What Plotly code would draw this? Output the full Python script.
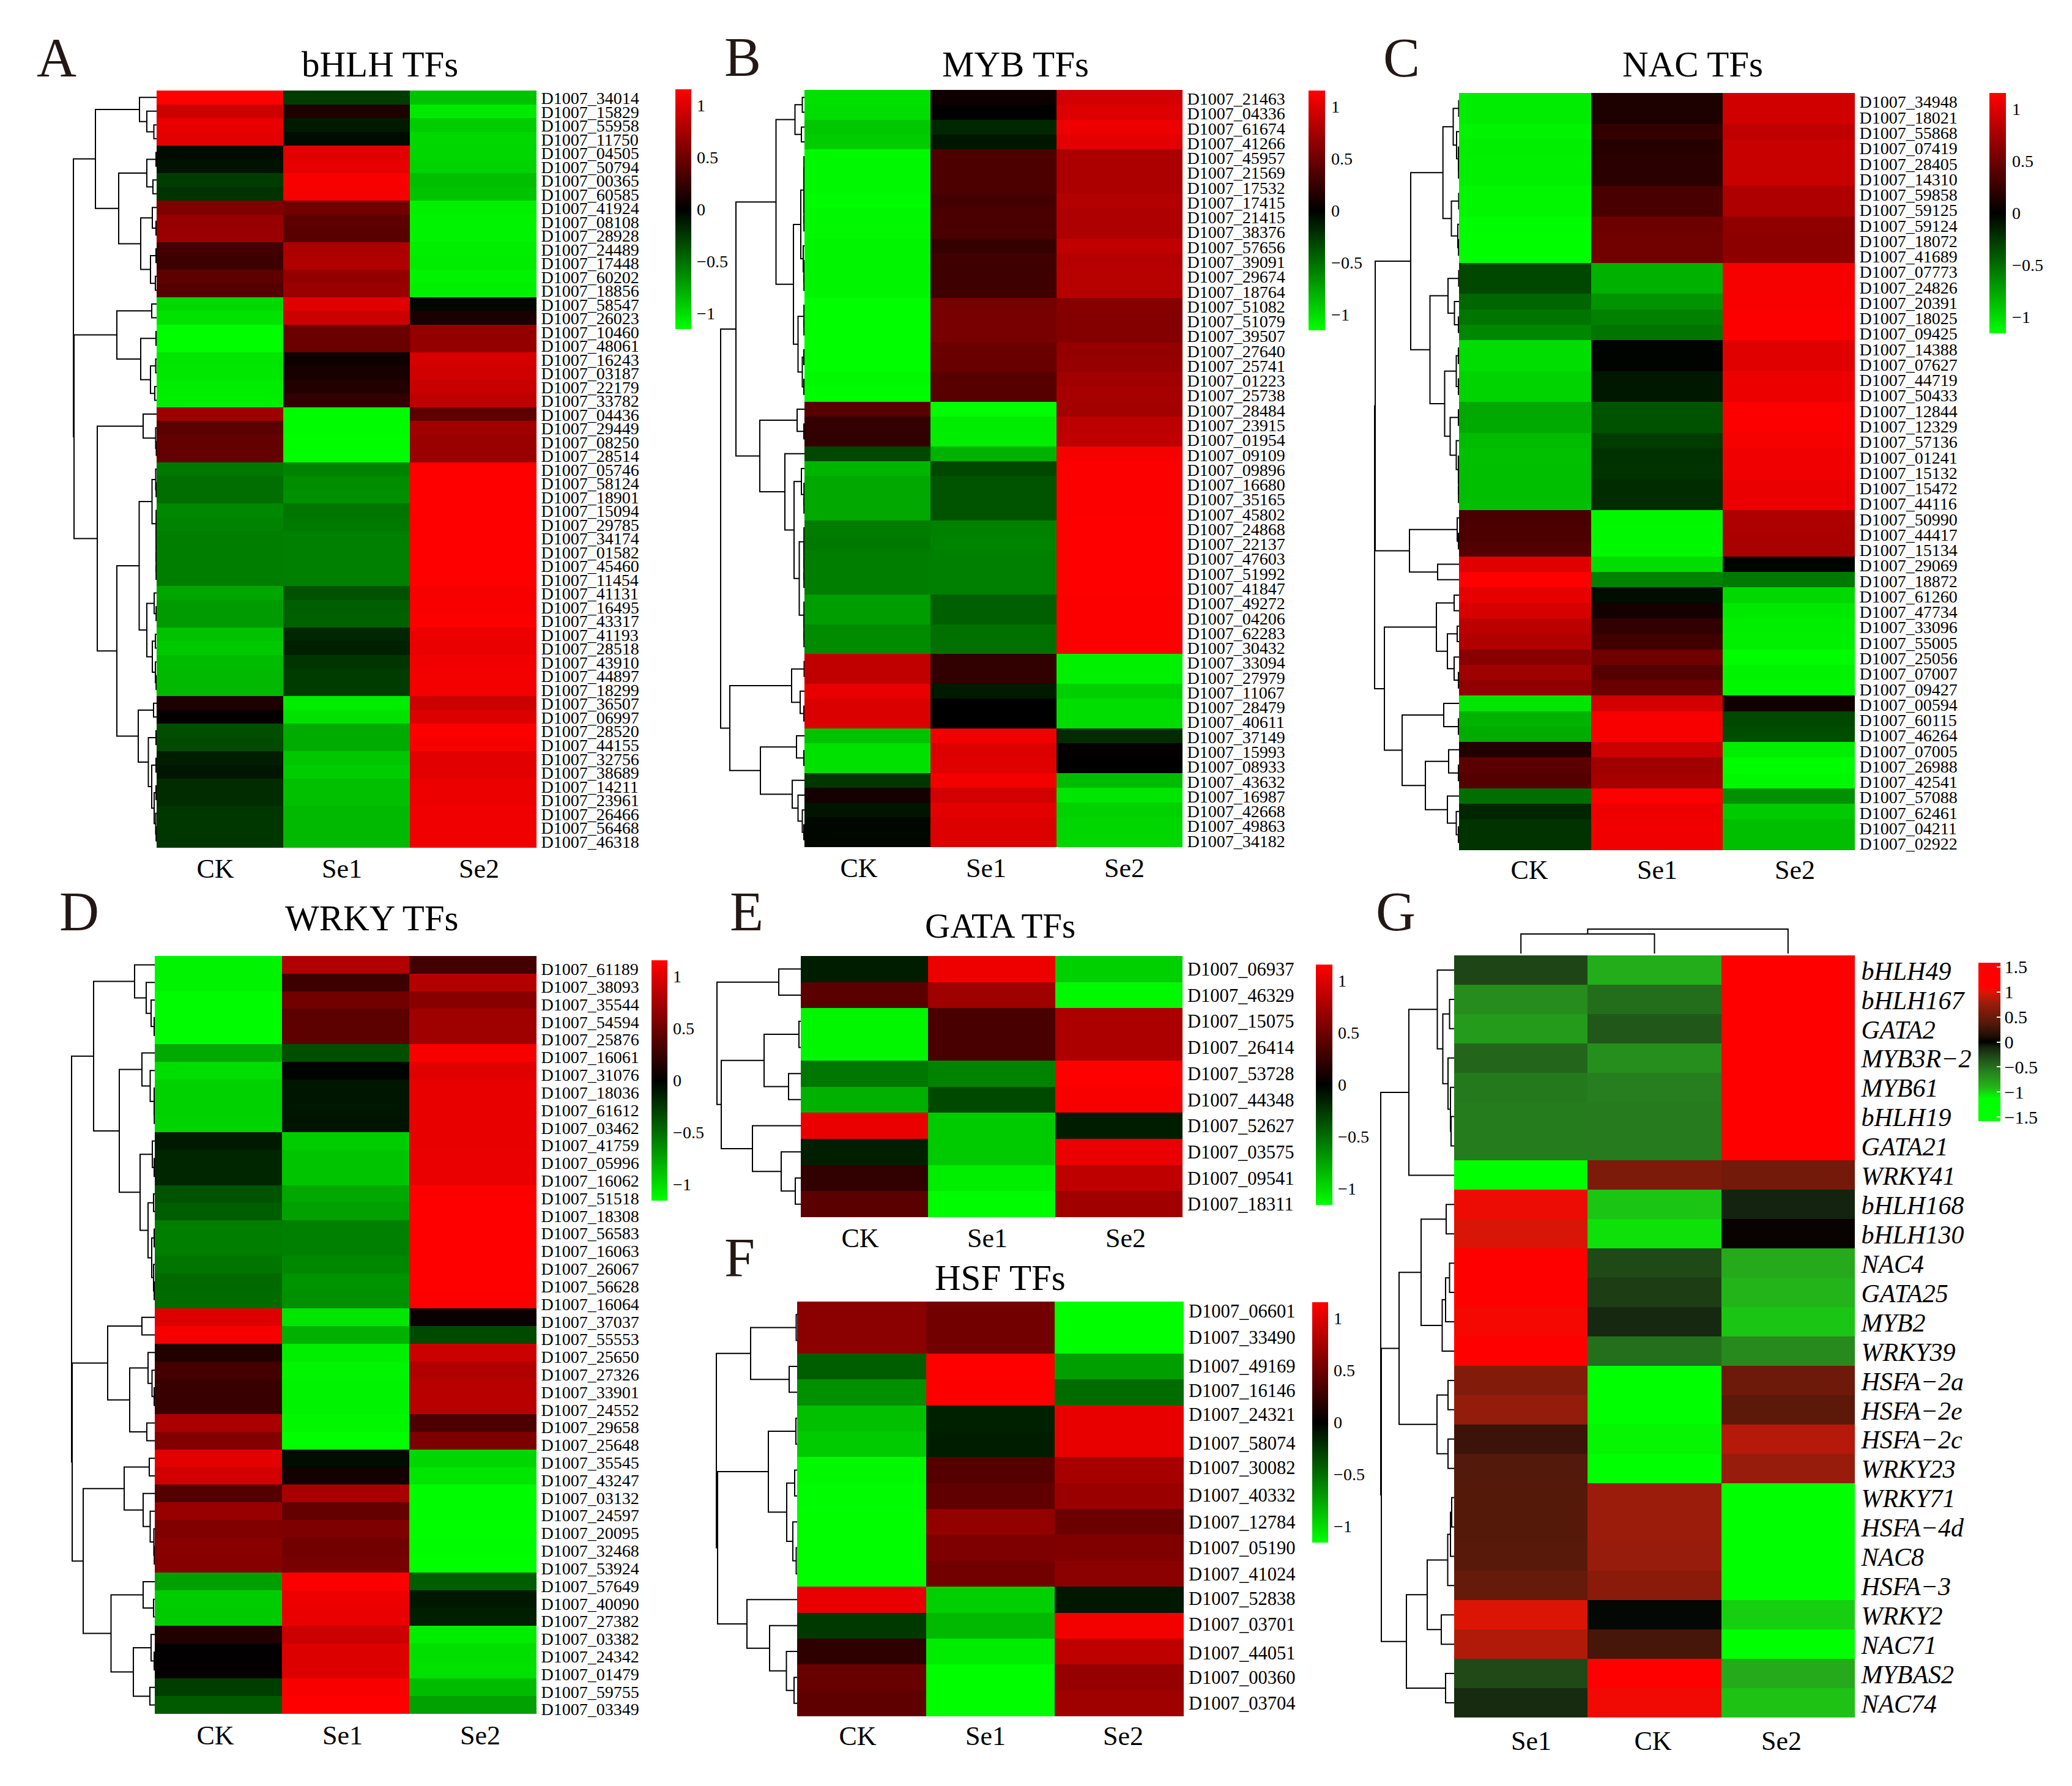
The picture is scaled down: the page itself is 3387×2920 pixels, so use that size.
import plotly.graph_objects as go

W, H = 3387, 2920
FONT = "Liberation Serif"
SAMPLES = ["CK", "Se1", "Se2"]
PREFIX = "D1007_"

# ---------- panel A: bHLH ----------
a_ids = "34014 15829 55958 11750 04505 50794 00365 60585 41924 08108 28928 24489 17448 60202 18856 58547 26023 10460 48061 16243 03187 22179 33782 04436 29449 08250 28514 05746 58124 18901 15094 29785 34174 01582 45460 11454 41131 16495 43317 41193 28518 43910 44897 18299 36507 06997 28520 44155 32756 38689 14211 23961 26466 56468 46318".split()
a_ck = [1.15,.93,1.05,1.03,-.05,-.08,-.27,-.23,.57,.68,.70,.30,.27,.43,.38,-.98,-1.03,-1.15,-1.15,-1.04,-1.05,-1.07,-1.08,.72,.41,.45,.45,-.55,-.50,-.50,-.62,-.60,-.57,-.57,-.57,-.57,-.75,-.70,-.70,-.88,-.91,-.85,-.84,-.84,.13,.02,-.36,-.34,-.13,-.10,-.20,-.20,-.25,-.25,-.25]
a_se1 = [-.27,.13,-.12,-.05,1.02,1.04,1.13,1.12,.52,.42,.40,.78,.80,.67,.70,1.02,.93,.48,.48,.07,.11,.16,.22,-1.14,-1.14,-1.15,-1.15,-.60,-.64,-.65,-.53,-.55,-.58,-.58,-.58,-.58,-.37,-.43,-.44,-.18,-.15,-.24,-.27,-.27,-1.07,-1.02,-.78,-.78,-.90,-.93,-.87,-.87,-.84,-.84,-.84]
a_se2 = [-.88,-1.06,-.93,-.98,-.97,-.96,-.86,-.89,-1.09,-1.10,-1.10,-1.08,-1.07,-1.10,-1.09,-.03,.12,.67,.67,.97,.94,.91,.86,.42,.73,.70,.70,1.15,1.15,1.15,1.15,1.15,1.15,1.15,1.15,1.15,1.12,1.13,1.14,1.07,1.06,1.09,1.10,1.11,.93,1.00,1.14,1.12,1.03,1.03,1.07,1.07,1.09,1.09,1.09]
a_tree = [136,
          [100, [28, 1, [16, 1, [4.5, 1, 1]]],
           [62, [16, [1, 1, 1], [6, 1, 1]],
            [26, [7, 1, [1, 1, 1]], [10, [1, 1, 1], [2, 1, 1]]]]],
          [135,
           [65, [8, 1, 1], [26, [1, 1, 1], [10, [1.5, 1, 1], [3, 1, 1]]]],
           [97, [22, 1, [1.5, 1, [.5, 1, 1]]],
            [65,
             [28.5, [7.5, [1.5, 1, 2], 6], [16, [4, 1, 2], [7, [2, 1, 1], [2, 1, 2]]]],
             [30, [5, 1, 1], [13.5, [1, 1, 1], [8, [1, 1, 1], [4, [1, 1, 1], [1.5, 1, 2]]]]]]]]]

# ---------- panel B: MYB ----------
b_ids = "21463 04336 61674 41266 45957 21569 17532 17415 21415 38376 57656 39091 29674 18764 51082 51079 39507 27640 25741 01223 25738 28484 23915 01954 09109 09896 16680 35165 45802 24868 22137 47603 51992 41847 49272 04206 62283 30432 33094 27979 11067 28479 40611 37149 15993 08933 43632 16987 42668 49863 34182".split()
b_ck = [-1.02,-1.0,-.9,-.93,-1.13,-1.13,-1.13,-1.14,-1.13,-1.13,-1.11,-1.11,-1.11,-1.11,-1.15,-1.15,-1.15,-1.15,-1.15,-1.13,-1.14,.40,.23,.22,-.32,-.82,-.76,-.76,-.76,-.56,-.55,-.57,-.57,-.57,-.71,-.71,-.63,-.63,.87,.87,1.05,.99,.99,-.88,-1.02,-1.02,-.25,.09,-.09,-.03,-.03]
b_se1 = [.07,0,-.18,-.1,.35,.35,.35,.31,.34,.34,.24,.29,.28,.28,.54,.55,.55,.48,.47,.40,.39,-1.14,-1.07,-1.08,-.80,-.32,-.38,-.38,-.38,-.59,-.60,-.58,-.58,-.58,-.43,-.43,-.51,-.51,.22,.22,-.12,0,0,1.09,1.0,1.02,1.1,.95,1.03,1.0,1.0]
b_se2 = [.95,1.0,1.08,1.03,.78,.78,.78,.81,.79,.79,.87,.82,.83,.83,.61,.60,.60,.67,.68,.73,.75,.74,.85,.86,1.12,1.14,1.14,1.14,1.14,1.15,1.15,1.15,1.15,1.15,1.14,1.14,1.14,1.14,-1.09,-1.09,-.94,-1.0,-1.0,-.2,.02,0,-.85,-1.04,-.95,-.97,-.97]
b_tree = [137,
          [112,
           [46.5, [15.5, [3.5, 1, 1], [5, 1, 1]],
            [18, [6, [1, 3, 3], [2, 1, 3]], [10.5, 3, [3.5, [1, 1, 1], [1, 1, 1]]]]],
           [73, [12, 1, [1, 1, 1]],
            [32, 1, [17, [5, 1, 3], [8.5, 5, 4]]]]],
          [122,
           [21, [.5, 1, 1], [7, 1, [1, 1, 1]]],
           [72, [13, 1, [1, 1, 1]],
            [20, 1, [10.5, 1, [3.5, 1, [1, 1, 1]]]]]]]

# ---------- panel C: NAC ----------
c_ids = "34948 18021 55868 07419 28405 14310 59858 59125 59124 18072 41689 07773 24826 20391 18025 09425 14388 07627 44719 50433 12844 12329 57136 01241 15132 15472 44116 50990 44417 15134 29069 18872 61260 47734 33096 55005 25056 07007 09427 00594 60115 46264 07005 26988 42541 57088 62461 04211 02922".split()
c_ck = [-1.07,-1.07,-1.1,-1.08,-1.09,-1.09,-1.12,-1.12,-1.14,-1.15,-1.15,-.32,-.32,-.46,-.53,-.61,-1.0,-1.0,-.96,-.96,-.76,-.77,-.85,-.87,-.86,-.86,-.86,.33,.35,.37,1.02,1.15,1.04,.97,.85,.8,.62,.72,.65,-1.04,-.81,-.78,.16,.41,.38,-.5,-.17,-.23,-.23]
c_se1 = [.13,.13,.23,.17,.19,.19,.33,.33,.49,.51,.51,-.80,-.80,-.67,-.59,-.53,-.02,-.02,-.11,-.11,-.38,-.37,-.27,-.22,-.23,-.2,-.2,-1.12,-1.13,-1.13,-1.0,-.6,-.06,.09,.22,.29,.5,.38,.47,.95,1.13,1.13,.92,.73,.75,1.15,1.08,1.09,1.09]
c_se2 = [.94,.94,.87,.91,.9,.9,.79,.79,.65,.64,.64,1.12,1.12,1.13,1.14,1.14,1.02,1.02,1.07,1.07,1.14,1.14,1.12,1.09,1.09,1.06,1.06,.79,.78,.76,-.02,-.55,-.98,-1.06,-1.08,-1.09,-1.14,-1.1,-1.12,.08,-.32,-.35,-1.08,-1.14,-1.13,-.65,-.92,-.86,-.86]
c_tree = [138,
          [137,
           [79,
            [26.3, [9.5, [.5, 1, 1], [4, 1, [1, 1, 2]]], [12.5, [.5, 1, 1], [2, 1, 2]]],
            [47.5, [18, [.5, 1, 1], [7.5, 1, [1, 1, 1]]],
             [23.5, [4.5, [1, 1, 1], [1, 1, 1]], [14.5, [1, 1, 1], [4.5, 1, [1, 1, 3]]]]]],
           [81, [3, 1, [1, 1, 1]], [35, 1, 1]]],
          [122,
           [37, [8, 1, 1], [19, [3, 1, 1], [8, 1, [1, 1, 1]]]],
           [93, [25, 1, [1, 1, 1]],
            [55, [17, 1, [1, 1, 1]], [19, 1, [4.5, 1, [1, 1, 1]]]]]]]

# ---------- panel D: WRKY ----------
d_ids = "61189 38093 35544 54594 25876 16061 31076 18036 61612 03462 41759 05996 16062 51518 18308 56583 16063 26067 56628 16064 37037 55553 25650 27326 33901 24552 29658 25648 35545 43247 03132 24597 20095 32468 53924 57649 40090 27382 03382 24342 01479 59755 03349".split()
d_ck = [-1.1,-1.1,-1.14,-1.14,-1.14,-.77,-1.0,-.95,-.95,-.96,-.12,-.17,-.17,-.38,-.42,-.57,-.57,-.53,-.48,-.49,1.0,1.13,.16,.31,.26,.26,.77,.59,1.03,.95,.38,.69,.58,.62,.61,-.72,-.93,-.92,.15,.01,.02,-.28,-.41]
d_se1 = [.8,.27,.52,.42,.42,-.36,-.02,-.1,-.1,-.09,-.93,-.89,-.89,-.76,-.73,-.58,-.58,-.62,-.67,-.65,-1.04,-.8,-1.08,-1.11,-1.1,-1.1,-1.12,-1.15,-.06,.09,.76,.45,.57,.52,.54,1.14,1.07,1.06,.92,1.0,1.0,1.13,1.15]
d_se2 = [.3,.82,.62,.72,.72,1.13,1.02,1.05,1.05,1.05,1.05,1.06,1.06,1.14,1.15,1.15,1.15,1.15,1.15,1.14,.04,-.33,.92,.8,.84,.84,.35,.56,-.97,-1.04,-1.14,-1.14,-1.15,-1.14,-1.15,-.42,-.11,-.14,-1.07,-1.01,-1.02,-.85,-.73]
d_tree = [136,
          [100,
           [33, 1, [14, 1, [6, 1, [1, 1, 1]]]],
           [58, [21, 1, [7.5, 1, [1, 1, 2]]],
            [24, [4, 1, [1, 1, 1]],
             [11, [2, 1, 1], [5, [1, 1, 1], [2, 1, [1, 1, 1]]]]]]],
          [135,
           [77, [21, 1, 1],
            [41, [11, 1, [4.5, 1, [1, 1, 1]]], [13, 1, 1]]],
           [117,
            [50, [9, 1, 1], [19, 1, [7.5, 1, [1.5, 1, 2]]]],
            [71.5, [19, 1, [2, 1, 1]], [35, [6, 1, [1, 1, 1]], [8, 1, 1]]]]]]

# ---------- panel E: GATA ----------
e_ids = "06937 46329 15075 26414 53728 44348 52627 03575 09541 18311".split()
e_ck = [-.13,.41,-1.12,-1.12,-.54,-.8,1.06,-.14,.22,.41]
e_se1 = [1.08,.72,.33,.33,-.6,-.33,-.92,-.92,-1.08,-1.14]
e_se2 = [-.94,-1.13,.78,.78,1.15,1.13,-.13,1.06,.86,.73]
e_tree = [137, [36, 1, 1],
          [130, [60, [3, 1, 1], [20, 1, 1]],
           [79, 1, [32, 1, [9, 1, 1]]]]]

# ---------- panel F: HSF ----------
f_ids = "06601 33490 49169 16146 24321 58074 30082 40332 12784 05190 41024 52838 03701 44051 00360 03704".split()
f_ck = [.63,.63,-.42,-.65,-.87,-.92,-1.13,-1.14,-1.15,-1.15,-1.15,1.05,-.26,.21,.47,.43]
f_se1 = [.52,.52,1.15,1.14,-.15,-.13,.38,.44,.66,.57,.52,-.94,-.84,-1.07,-1.15,-1.15]
f_se2 = [-1.15,-1.15,-.72,-.49,1.05,1.05,.75,.7,.49,.58,.63,-.11,1.1,.86,.68,.72]
f_label_nudge = [-6,-5,-1,-3,-6,-2,-4,-1,0,0,0,-2,-2,2,0,0]
f_tree = [132,
          [76, [1.5, 1, 1], [13, 1, 1]],
          [130,
           [47, [2, 1, 1], [17, [4, 1, 1], [7, 1, [1.5, 1, 1]]]],
           [82, 1, [45, 1, [17.5, 1, [5, 1, 1]]]]]]

# ---------- panel G: named TFs ----------
g_samples = ["Se1", "CK", "Se2"]
g_names = ["bHLH49","bHLH167","GATA2","MYB3R\u22122","MYB61","bHLH19","GATA21","WRKY41","bHLH168","bHLH130","NAC4","GATA25","MYB2","WRKY39","HSFA\u22122a","HSFA\u22122e","HSFA\u22122c","WRKY23","WRKY71","HSFA\u22124d","NAC8","HSFA\u22123","WRKY2","NAC71","MYBAS2","NAC74"]
g_se1 = [-.27,-.66,-.75,-.45,-.55,-.57,-.57,-1.15,1.05,.97,1.14,1.13,1.08,1.15,.63,.72,.25,.37,.38,.38,.40,.47,.98,.84,-.30,-.14]
g_ck = [-.86,-.49,-.37,-.67,-.58,-.56,-.56,.60,-.95,-1.03,-.30,-.23,-.13,-.50,-1.15,-1.15,-1.09,-1.12,.77,.77,.74,.67,-.02,.30,1.14,1.06]
g_se2 = [1.13,1.15,1.12,1.12,1.13,1.13,1.13,.55,-.10,.03,-.84,-.90,-.95,-.65,.52,.42,.85,.75,-1.15,-1.15,-1.14,-1.14,-.98,-1.13,-.84,-.94]
g_tree = [120,
          [74, [27.5, 1, [18.5, [7.5, 1, 1], [10, 1, [6, 1, [5, 1, 1]]]]], 1],
          [119,
           [90,
            [54, [13, 1, 1], [19.5, [14, [7.5, 1, 1], 1], 1]],
            [28, [10, 1, 1], [10, 1, 1]]],
           [78,
            [44, [10.5, [6, [4, 1, 1], 1], 1], [21, 1, 1]],
            [14, 1, 1]]]]
g_col_tree = [40, [32, 1, 1], 1]

BAR_TICKS = [-1, -0.5, 0, 0.5, 1]
BAR_TEXT = ["\u22121", "\u22120.5", "0", "0.5", "1"]
G_BAR_TICKS = [-1.5, -1, -0.5, 0, 0.5, 1, 1.5]
G_BAR_TEXT = ["\u22121.5", "\u22121", "\u22120.5", "0", "0.5", "1", "1.5"]

ZMAX = 1.155
GZMAX = 1.58
SCALE = [[0, "rgb(0,255,0)"], [0.5, "rgb(0,0,0)"], [1, "rgb(255,0,0)"]]
G_STOPS = [(-1.58,(0,255,0)),(-1.12,(0,255,0)),(-.9,(35,180,25)),(-.6,(38,130,30)),(-.25,(30,65,22)),
           (-.1,(20,35,15)),(0,(0,0,0)),(.15,(40,15,6)),(.38,(85,25,10)),(.77,(156,28,11)),
           (1.0,(225,20,5)),(1.12,(255,0,0)),(1.58,(255,0,0))]
G_SCALE = [[(v + GZMAX) / (2 * GZMAX), "rgb(%d,%d,%d)" % c] for v, c in G_STOPS]


def fx(px):
    return px / W


def fy(px):
    return 1 - px / H


def expand(node):
    if isinstance(node, int):
        if node == 1:
            return 1
        return [0.8, 1, expand(node - 1)]
    return [node[0], expand(node[1]), expand(node[2])]


def tree_lines(node, counter, xs, ys):
    if node == 1:
        counter[0] += 1
        return counter[0] - 1, 0.0
    h, a, b = node
    pa, ha = tree_lines(a, counter, xs, ys)
    pb, hb = tree_lines(b, counter, xs, ys)
    xs += [ha, h, h, hb, None]
    ys += [pa, pa, pb, pb, None]
    return (pa + pb) / 2, h


panels = [
    dict(key="A", title="bHLH TFs", ids=a_ids, cols=[a_ck, a_se1, a_se2], tree=a_tree, box=(256, 463, 670, 877, 148, 1386),
         xlab=(352, 559, 783), xlab_off=4, nudge=1, bar=(1104, 1130, 146, 538), bar_gap=4, title_xy=(621, 105), letter_xy=(92, 95)),
    dict(key="B", title="MYB TFs", ids=b_ids, cols=[b_ck, b_se1, b_se2], tree=b_tree, box=(1315, 1521, 1727, 1933, 147, 1385),
         xlab=(1404, 1612, 1838), xlab_off=4, nudge=2, bar=(2139, 2166, 148, 540), bar_gap=5, title_xy=(1660, 105), letter_xy=(1214, 94)),
    dict(key="C", title="NAC TFs", ids=c_ids, cols=[c_ck, c_se1, c_se2], tree=c_tree, box=(2385, 2601, 2816, 3032, 152, 1390),
         xlab=(2500, 2709, 2934), xlab_off=2, nudge=2, bar=(3252, 3279, 152, 545), bar_gap=5, title_xy=(2767, 105), letter_xy=(2291, 95)),
    dict(key="D", title="WRKY TFs", ids=d_ids, cols=[d_ck, d_se1, d_se2], tree=d_tree, box=(253, 461, 668, 877, 1563, 2802),
         xlab=(352, 560, 785), xlab_off=5, nudge=7, bar=(1065, 1091, 1570, 1963), bar_gap=4, title_xy=(608, 1501), letter_xy=(129, 1490)),
    dict(key="E", title="GATA TFs", ids=e_ids, cols=[e_ck, e_se1, e_se2], tree=e_tree, box=(1309, 1516, 1724, 1933, 1563, 1990),
         xlab=(1406, 1614, 1840), xlab_off=4, nudge=0, bar=(2151, 2178, 1577, 1970), bar_gap=4, title_xy=(1635, 1513), letter_xy=(1220, 1490),
         tick_size=30.5, title_size=57),
    dict(key="F", title="HSF TFs", ids=f_ids, cols=[f_ck, f_se1, f_se2], tree=f_tree, box=(1303, 1513, 1724, 1935, 2128, 2806),
         xlab=(1402, 1611, 1836), xlab_off=2, nudge=f_label_nudge, bar=(2145, 2171, 2129, 2522), bar_gap=4, title_xy=(1635, 2089), letter_xy=(1209, 2056),
         tick_size=30.5),
    dict(key="G", title=None, ids=g_names, cols=[g_se1, g_ck, g_se2], tree=g_tree, box=(2377, 2595, 2813, 3032, 1562, 2808),
         xlab=(2503, 2702, 2912), xlab_off=8, nudge=1, bar=(3234, 3270, 1574, 1833), bar_gap=8, title_xy=None, letter_xy=(2281, 1490),
         samples=g_samples),
]

fig = go.Figure()
layout = {}
annotations = []
axis_no = 0


def new_axis():
    global axis_no
    axis_no += 1
    return "" if axis_no == 1 else str(axis_no)


for p in panels:
    left, b1, b2, right, top, bottom = p["box"]
    ids = p["ids"]
    n = len(ids)
    named = p["key"] == "G"
    labels = ids if named else [PREFIX + s for s in ids]
    samples = p.get("samples", SAMPLES)
    z = [[p["cols"][j][i] for j in range(3)] for i in range(n)]

    ax = new_axis()
    colw = (right - left) / 3
    rowh = (bottom - top) / n
    nudge = p["nudge"] if isinstance(p["nudge"], list) else [p["nudge"]] * n
    tickvals_y = [i + nudge[i] / rowh for i in range(n)]
    tickvals_x = [(c - left) / colw - 0.5 for c in p["xlab"]]

    bx0, bx1, by0, by1 = p["bar"]
    zm = GZMAX if named else ZMAX
    fig.add_trace(go.Heatmap(
        z=z, x=[0, 1, 2], y=list(range(n)), xaxis="x" + ax, yaxis="y" + ax,
        colorscale=G_SCALE if named else SCALE, zmin=-zm, zmax=zm, hoverinfo="skip",
        colorbar=dict(
            x=fx(bx0), xanchor="left", xpad=0, ypad=0, y=fy((by0 + by1) / 2), yanchor="middle",
            thicknessmode="pixels", thickness=bx1 - bx0, lenmode="pixels", len=by1 - by0,
            outlinewidth=0, borderwidth=0,
            tickmode="array",
            tickvals=G_BAR_TICKS if named else BAR_TICKS,
            ticktext=G_BAR_TEXT if named else BAR_TEXT,
            ticks="inside" if named else "outside",
            ticklen=6 if named else p["bar_gap"],
            tickcolor="white" if named else "rgba(0,0,0,0)",
            tickwidth=2,
            tickfont=dict(family=FONT, size=30 if named else 28, color="black"),
        ),
    ))
    layout["xaxis" + ax] = dict(
        domain=[fx(left), fx(right)], range=[-0.5, 2.5], anchor="y" + ax, side="bottom",
        tickmode="array", tickvals=tickvals_x, ticktext=samples, tickangle=0,
        ticks="", ticklabelstandoff=p["xlab_off"],
        tickfont=dict(family=FONT, size=44, color="black"),
        showgrid=False, zeroline=False, showline=False, fixedrange=True,
    )
    layout["yaxis" + ax] = dict(
        domain=[fy(bottom), fy(top)], range=[n - 0.5, -0.5], anchor="x" + ax, side="right",
        tickmode="array", tickvals=tickvals_y, ticktext=labels, tickangle=0,
        ticks="outside", ticklen=1, tickcolor="rgba(0,0,0,0)",
        tickfont=dict(family=FONT, size=42 if named else p.get("tick_size", 28), color="black",
                      style="italic" if named else "normal"),
        showgrid=False, zeroline=False, showline=False, fixedrange=True,
    )

    # row dendrogram, one height unit is one pixel
    xs, ys = [], []
    tree_lines(expand(p["tree"]), [0], xs, ys)
    dmax = max(v for v in xs if v is not None) + 4
    dx = new_axis()
    layout["xaxis" + dx] = dict(domain=[fx(left - dmax), fx(left)], range=[dmax, 0], anchor="y" + ax,
                                visible=False, fixedrange=True)
    fig.add_trace(go.Scatter(x=xs, y=ys, xaxis="x" + dx, yaxis="y" + ax, mode="lines",
                             line=dict(color="black", width=2), hoverinfo="skip", showlegend=False))

    if named:
        xs, ys = [], []
        tree_lines(expand(g_col_tree), [0], xs, ys)
        gy = new_axis()
        layout["yaxis" + gy] = dict(domain=[fy(1559), fy(1559 - 46)], range=[0, 46], anchor="x" + ax,
                                    visible=False, fixedrange=True)
        fig.add_trace(go.Scatter(x=ys, y=xs, xaxis="x" + ax, yaxis="y" + gy, mode="lines",
                                 line=dict(color="black", width=2), hoverinfo="skip", showlegend=False))

    if p["title"]:
        annotations.append(dict(text=p["title"], x=fx(p["title_xy"][0]), y=fy(p["title_xy"][1]),
                                xref="paper", yref="paper", xanchor="center", yanchor="middle",
                                showarrow=False,
                                font=dict(family=FONT, size=p.get("title_size", 59), color="black")))
    annotations.append(dict(text=p["key"], x=fx(p["letter_xy"][0]), y=fy(p["letter_xy"][1]),
                            xref="paper", yref="paper", xanchor="center", yanchor="middle",
                            showarrow=False, font=dict(family=FONT, size=90, color="#231815")))

fig.update_layout(width=W, height=H, autosize=False,
                  margin=dict(l=0, r=0, t=0, b=0, pad=0, autoexpand=False),
                  paper_bgcolor="white", plot_bgcolor="white", showlegend=False,
                  annotations=annotations, **layout)
fig.write_html("out.html", post_script="document.body.style.margin='0';",
               config={"displayModeBar": False})
